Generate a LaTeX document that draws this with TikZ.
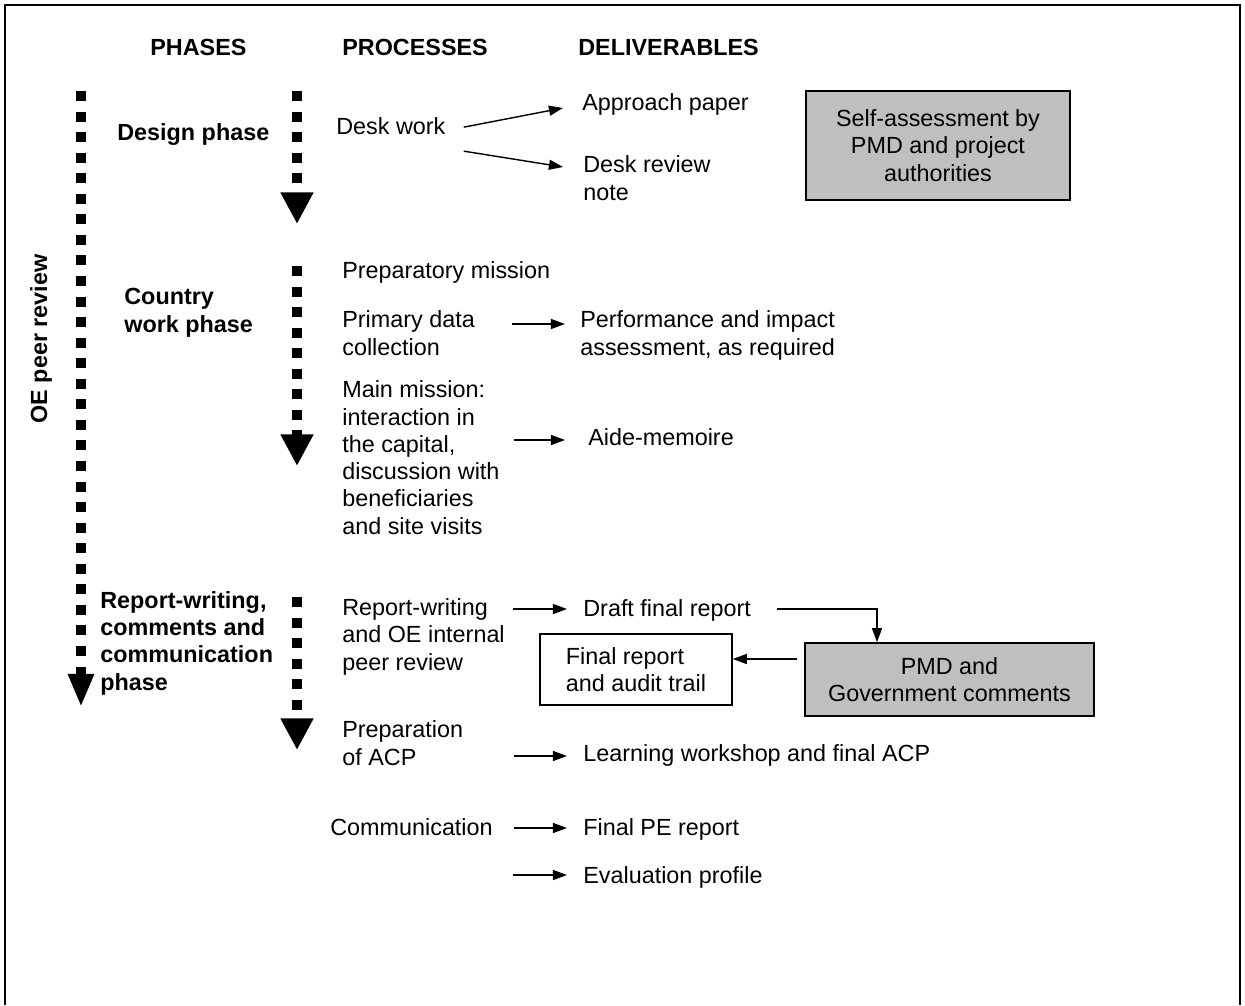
\documentclass[tikz,border=0pt]{standalone}
\usepackage{fontspec}
\setmainfont{Liberation Sans}
\usetikzlibrary{arrows.meta,calc}

\begin{document}
\begin{tikzpicture}[
    x=0.02cm, y=-0.02cm,
    font=\fontsize{13.3}{15.5}\selectfont,
    txt/.style={inner sep=0pt, anchor=base west, align=left},
    head/.style={txt, font=\fontsize{13.3}{15.5}\selectfont\bfseries},
    box/.style={draw, line width=0.9pt, inner sep=0pt, align=center, fill=black!25},
    arr/.style={-{Triangle[length=8pt,width=5.7pt]}, line width=0.8pt},
    dotarr/.style={line width=5.7pt, dash pattern=on 5.7pt off 6pt,
                   -{Triangle[length=18pt,width=17.6pt]}}
  ]
  \useasboundingbox (0,0) rectangle (1245,1005);
  \draw[line width=1pt] (5,1005) -- (5,5) -- (1240,5) -- (1240,1005);

  % column heads
  \node[head] (phases) at (150,55) {PHASES};
  \node[head] (processes) at (342,55) {PROCESSES};
  \node[head] (deliverables) at (578,55) {DELIVERABLES};

  % phases (multi-line nodes sit on their last line)
  \node[font=\fontsize{13.3}{15.5}\selectfont\bfseries, rotate=90, inner sep=0pt] (peer) at (41,339) {OE peer review};
  \node[head] (design) at (117,140) {Design phase};
  \node[head] (country) at (124,332) {Country\\work phase};
  \node[head] (reporting) at (100,690) {Report-writing,\\comments and\\communication\\phase};

  % dotted arrows
  \draw[dotarr, -{Triangle[length=18.8pt,width=13.7pt]}] (81,91) -- (81,707);
  \draw[dotarr] (297,91) -- (297,224);
  \draw[dotarr] (297,266) -- (297,466);
  \draw[dotarr] (297,597) -- (297,750);

  % processes
  \node[txt] (desk) at (336,134) {Desk work};
  \node[txt] (prepmission) at (342,278) {Preparatory mission};
  \node[txt] (primary) at (342,355) {Primary data\\collection};
  \node[txt] (mainmission) at (342,534) {Main mission:\\interaction in\\the capital,\\discussion with\\beneficiaries\\and site visits};
  \node[txt] (reportwriting) at (342,670) {Report-writing\\and OE internal\\peer review};
  \node[txt] (prepacp) at (342,765) {Preparation\\of ACP};
  \node[txt] (communication) at (330,835) {Communication};

  % deliverables
  \node[txt] (approach) at (582,110) {Approach paper};
  \node[txt] (deskreview) at (583,200) {Desk review\\note};
  \node[txt] (perform) at (580,355) {Performance and impact\\assessment, as required};
  \node[txt] (aide) at (588,445) {Aide-memoire};
  \node[txt] (draft) at (583,616) {Draft final report};
  \node[txt] (learning) at (583,761) {Learning workshop and final ACP};
  \node[txt] (finalpe) at (583,835) {Final PE report};
  \node[txt] (evalprofile) at (583,883) {Evaluation profile};
  \coordinate (evalstart) at (513,875);

  % boxes
  \node[box, minimum width=5.28cm, minimum height=2.18cm] (selfassess) at (938,145.5) {Self-assessment by\\PMD and project\\authorities};
  \node[box, minimum width=5.78cm, minimum height=1.46cm] (pmd) at (949.5,679.5) {PMD and\\Government comments};
  \node[box, fill=white, align=left, minimum width=3.84cm, minimum height=1.42cm] (finalreport) at (636,669.5) {Final report\\and audit trail};

  % connectors
  \draw[arr] ($(desk.east)+(18,1.5)$) -- ($(approach.base west)+(-19,-2)$);
  \draw[arr] ($(desk.east)+(18,25.5)$) -- ($(deskreview.base west)+(-20,-33)$);
  \draw[arr] ($(primary.base east)+(37,-31)$) -- ($(perform.base west)+(-15,-31)$);
  \draw[arr] ($(mainmission.base east)+(14,-94)$) -- ($(aide.base west)+(-23,-5)$);
  \draw[arr] ($(reportwriting.base east)+(8,-61)$) -- ($(draft.base west)+(-16,-7)$);
  \draw[arr] ($(draft.base east)+(26,-7)$) -| ($(pmd.north)+(-72.5,0)$);
  \draw[arr] ($(pmd.west)+(-7,-20.5)$) -- ($(finalreport.east)+(0,-10.5)$);
  \draw[arr] ($(prepacp.base east)+(50,-9)$) -- ($(learning.base west)+(-16,-5)$);
  \draw[arr] ($(communication.base east)+(20.5,-7)$) -- ($(finalpe.base west)+(-16,-7)$);
  \draw[arr] (evalstart) -- ($(evalprofile.base west)+(-16,-8)$);
\end{tikzpicture}
\end{document}
